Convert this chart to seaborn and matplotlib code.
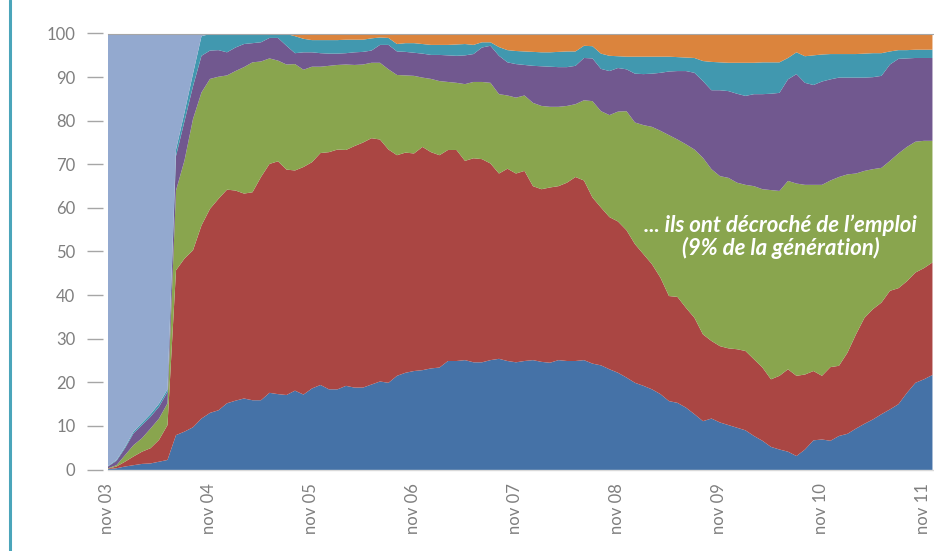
import numpy as np
import pandas as pd
import seaborn as sns
import matplotlib.pyplot as plt
from matplotlib.lines import Line2D

# parts de la génération (en %) par mois, de nov 03 à déc 11
emploi_stable = [
    0.2, 0.4, 0.8, 1.1, 1.4, 1.5, 1.9, 2.3, 8.0, 8.8, 9.8, 11.8,
    13.1, 13.7, 15.3, 15.9, 16.4, 16.0, 16.0, 17.7, 17.4, 17.2, 18.2, 17.3,
    18.7, 19.5, 18.5, 18.5, 19.3, 18.9, 18.9, 19.6, 20.3, 20.0, 21.6, 22.3,
    22.7, 22.9, 23.3, 23.5, 25.0, 25.0, 25.2, 24.7, 24.7, 25.2, 25.5, 25.0,
    24.7, 25.0, 25.2, 24.8, 24.6, 25.2, 25.0, 25.0, 25.2, 24.4, 24.0, 23.1,
    22.3, 21.2, 20.0, 19.3, 18.5, 17.4, 15.8, 15.4, 14.3, 12.8, 11.2, 11.8,
    10.9, 10.3, 9.7, 9.1, 7.8, 6.7, 5.3, 4.7, 4.2, 3.2, 4.7, 6.8,
    7.0, 6.7, 7.8, 8.3, 9.5, 10.6, 11.6, 12.8, 13.9, 15.1, 17.7, 20.0,
    20.8, 21.8,
]
emploi_temp = [
    0.1, 0.4, 1.1, 2.0, 2.8, 3.5, 5.0, 8.0, 37.8, 39.7, 40.6, 44.3,
    46.8, 48.5, 49.0, 48.2, 47.0, 47.7, 51.2, 52.5, 53.4, 51.7, 50.5, 52.2,
    51.9, 53.2, 54.4, 55.0, 54.1, 55.4, 56.2, 56.5, 55.5, 53.5, 50.6, 50.5,
    49.9, 51.2, 49.6, 48.7, 48.4, 48.4, 45.7, 46.8, 46.6, 45.1, 42.5, 44.1,
    43.3, 43.6, 39.9, 39.6, 40.2, 39.9, 40.9, 42.2, 41.2, 38.1, 36.2, 34.9,
    34.7, 33.8, 31.8, 30.2, 28.7, 26.7, 24.1, 24.3, 22.9, 22.1, 19.9, 17.8,
    17.5, 17.6, 18.0, 18.2, 17.6, 16.8, 15.5, 16.9, 18.9, 18.4, 17.2, 15.9,
    14.6, 16.9, 16.1, 18.6, 21.6, 24.3, 25.3, 25.6, 27.2, 26.6, 25.6, 25.3,
    25.5, 25.8,
]
chomage = [
    0.1, 0.3, 1.5, 2.6, 3.1, 4.5, 4.9, 5.0, 18.3, 22.5, 30.1, 30.5,
    29.8, 28.0, 26.2, 27.4, 29.0, 29.8, 26.5, 24.2, 23.1, 24.1, 24.4, 22.3,
    21.9, 19.8, 19.8, 19.4, 19.6, 18.6, 17.9, 17.3, 17.6, 18.4, 18.4, 17.7,
    17.8, 15.9, 16.8, 17.0, 15.6, 15.4, 17.6, 17.5, 17.7, 18.5, 18.2, 16.8,
    17.4, 17.3, 19.1, 19.1, 18.5, 18.2, 17.6, 16.7, 18.4, 22.1, 22.1, 23.4,
    25.2, 27.3, 27.9, 29.6, 31.5, 33.7, 36.9, 36.1, 37.5, 38.6, 40.5, 39.4,
    39.0, 39.1, 38.2, 38.1, 39.7, 40.9, 43.4, 42.4, 43.2, 44.1, 43.5, 42.7,
    43.8, 42.8, 43.3, 40.9, 36.9, 33.7, 32.1, 30.9, 29.8, 30.9, 30.8, 30.0,
    29.2, 27.9,
]
inactivite = [
    0.4, 1.0, 1.6, 2.7, 3.0, 2.7, 2.7, 2.6, 7.9, 9.0, 7.5, 8.4,
    6.5, 6.1, 5.3, 5.4, 5.3, 4.4, 4.4, 4.7, 5.2, 4.3, 2.5, 4.0,
    3.3, 3.1, 2.8, 2.6, 2.6, 2.9, 2.9, 2.8, 4.1, 5.6, 5.4, 5.4,
    5.3, 5.5, 5.5, 6.0, 6.1, 6.2, 6.6, 6.4, 7.9, 8.5, 8.8, 7.6,
    7.7, 7.0, 8.5, 9.1, 9.2, 9.1, 8.9, 8.8, 9.7, 9.8, 9.7, 10.1,
    10.0, 9.6, 11.2, 11.7, 12.2, 13.3, 14.6, 15.7, 16.8, 17.6, 17.6, 18.1,
    19.7, 19.9, 20.4, 20.4, 21.1, 21.8, 22.1, 22.5, 23.3, 25.1, 23.4, 22.9,
    23.7, 23.2, 22.8, 22.2, 22.0, 21.4, 21.1, 21.1, 22.1, 21.7, 20.3, 19.2,
    19.0, 19.0,
]
formation = [
    0.1, 0.2, 0.3, 0.4, 0.5, 0.6, 0.7, 0.6, 1.5, 2.0, 2.9, 4.5,
    3.8, 3.7, 4.2, 3.1, 2.3, 2.1, 1.9, 0.9, 0.9, 2.7, 3.9, 3.1,
    2.8, 3.0, 3.1, 3.1, 3.1, 2.9, 2.8, 2.8, 1.7, 1.6, 1.7, 2.0,
    2.2, 2.2, 2.3, 2.3, 2.4, 2.6, 2.6, 2.1, 1.2, 0.8, 2.0, 2.8,
    3.0, 3.1, 3.2, 3.2, 3.3, 3.5, 3.6, 3.3, 2.8, 2.8, 3.5, 3.5,
    2.7, 2.9, 3.9, 4.0, 3.9, 3.7, 3.4, 3.2, 3.1, 3.4, 4.6, 6.5,
    6.4, 6.5, 7.1, 7.6, 7.2, 7.3, 7.2, 7.0, 4.9, 5.0, 6.1, 6.8,
    6.2, 5.8, 5.4, 5.4, 5.4, 5.5, 5.5, 5.2, 3.0, 2.0, 1.9, 1.9,
    1.9, 1.9,
]
reprise_etudes = [
    0.0, 0.0, 0.0, 0.0, 0.0, 0.0, 0.0, 0.0, 0.0, 0.0, 0.0, 0.0,
    0.0, 0.0, 0.0, 0.0, 0.0, 0.0, 0.0, 0.0, 0.0, 0.0, 0.5, 1.1,
    1.4, 1.4, 1.4, 1.4, 1.3, 1.3, 1.3, 1.0, 0.8, 0.9, 2.3, 2.1,
    2.1, 2.3, 2.5, 2.5, 2.5, 2.4, 2.3, 2.5, 1.9, 1.9, 3.0, 3.7,
    3.9, 4.0, 4.1, 4.2, 4.2, 4.1, 4.0, 4.0, 2.7, 2.8, 4.5, 5.0,
    5.1, 5.2, 5.2, 5.2, 5.2, 5.2, 5.2, 5.3, 5.4, 5.5, 6.2, 6.4,
    6.5, 6.6, 6.6, 6.6, 6.6, 6.5, 6.5, 6.5, 5.5, 4.2, 5.1, 4.9,
    4.7, 4.6, 4.6, 4.6, 4.6, 4.5, 4.4, 4.4, 4.0, 3.7, 3.7, 3.6,
    3.6, 3.6,
]
etudes = [
    99.1, 97.7, 94.7, 91.2, 89.2, 87.2, 84.8, 81.5, 26.5, 18.0, 9.1, 0.5,
    0.0, 0.0, 0.0, 0.0, 0.0, 0.0, 0.0, 0.0, 0.0, 0.0, 0.0, 0.0,
    0.0, 0.0, 0.0, 0.0, 0.0, 0.0, 0.0, 0.0, 0.0, 0.0, 0.0, 0.0,
    0.0, 0.0, 0.0, 0.0, 0.0, 0.0, 0.0, 0.0, 0.0, 0.0, 0.0, 0.0,
    0.0, 0.0, 0.0, 0.0, 0.0, 0.0, 0.0, 0.0, 0.0, 0.0, 0.0, 0.0,
    0.0, 0.0, 0.0, 0.0, 0.0, 0.0, 0.0, 0.0, 0.0, 0.0, 0.0, 0.0,
    0.0, 0.0, 0.0, 0.0, 0.0, 0.0, 0.0, 0.0, 0.0, 0.0, 0.0, 0.0,
    0.0, 0.0, 0.0, 0.0, 0.0, 0.0, 0.0, 0.0, 0.0, 0.0, 0.0, 0.0,
    0.0, 0.0,
]

etiquettes = ["nov 03", "nov 04", "nov 05", "nov 06", "nov 07",
              "nov 08", "nov 09", "nov 10", "nov 11"]

couleurs = ["#4572A7", "#AA4643", "#89A54E", "#71588F", "#4198AF", "#DB843D", "#93A9CF"]

df = pd.DataFrame({
    "emploi_stable": emploi_stable,
    "emploi_temp": emploi_temp,
    "chomage": chomage,
    "inactivite": inactivite,
    "formation": formation,
    "reprise_etudes": reprise_etudes,
    "etudes": etudes,
})
df["mois"] = np.arange(len(df))

sns.set_theme(style="white")
plt.rcParams['font.family'] = ['Lato', 'DejaVu Sans']

fig = plt.figure(figsize=(9.34, 5.51), dpi=100)
ax = fig.add_axes([107.5 / 934, 1 - 469.5 / 551, 1 - 107.5 / 934, 436 / 551])

ax.stackplot(df["mois"], [df[c] for c in df.columns if c != "mois"],
             colors=couleurs, linewidth=0)

ax.set_xlim(0, 97.24)
ax.set_ylim(0, 100)

ax.set_yticks(range(0, 101, 10))
ax.set_xticks([12 * i for i in range(len(etiquettes))])
ax.set_xticklabels(etiquettes, rotation=90, va="top", ha="center")

ax.spines['left'].set_position(('outward', 3))
ax.spines['left'].set_visible(False)
ax.spines['right'].set_visible(False)
ax.spines['top'].set_color('#a6a6a6')
ax.spines['top'].set_linewidth(0.8)
ax.spines['bottom'].set_color('#d9d9d9')
ax.spines['bottom'].set_linewidth(1.0)

ax.tick_params(axis='y', left=True, length=11.5, width=1.0, color='#a6a6a6',
               pad=8.6, labelsize=12, labelcolor='#7f7f7f')
ax.tick_params(axis='x', bottom=False, length=0, pad=9.5,
               labelsize=12, labelcolor='#7f7f7f')
ax.grid(False)

ax.text(79.2, 53.4, "... ils ont décroché de l’emploi\n(9% de la génération)",
        ha='center', va='center', multialignment='center', color='white',
        fontsize=16, fontweight='bold', fontstyle='italic', linespacing=1.05)

# filet vertical à gauche
fig.add_artist(Line2D([9.5 / 934, 9.5 / 934], [0, 1], transform=fig.transFigure,
                      color='#4BA5BA', linewidth=2.2))

fig.savefig("out.png", dpi=100)
